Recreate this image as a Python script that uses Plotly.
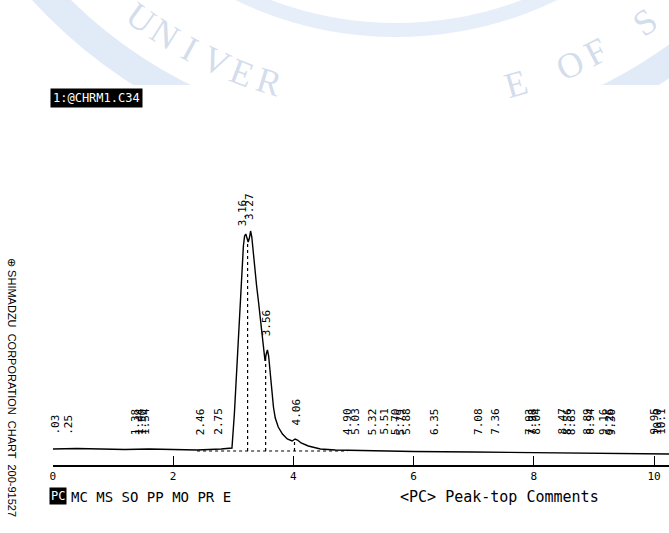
import math
import plotly.graph_objects as go

# ---------------- data ----------------
time_min = [0.00, 0.40, 0.80, 1.20, 1.60, 2.00, 2.40, 2.80, 2.98, 3.02, 3.05, 3.08,
            3.11, 3.14, 3.17, 3.19, 3.21, 3.23, 3.25, 3.27, 3.29, 3.31, 3.33, 3.36,
            3.39, 3.42, 3.45, 3.48, 3.51, 3.53, 3.55, 3.57, 3.59, 3.61, 3.64, 3.67,
            3.70, 3.75, 3.82, 3.90, 3.98, 4.03, 4.07, 4.13, 4.25, 4.45, 4.70, 5.00,
            6.00, 7.00, 8.00, 9.00, 10.25]
signal = [0, 0.5, 0, -0.5, 0, -0.5, -1, 0, 1, 35, 70, 110,
          145, 178, 203, 213, 215, 211, 207, 211, 218, 212, 198, 180,
          163, 148, 130, 112, 94, 88, 95, 99, 93, 78, 58, 42,
          31, 22, 15, 10, 8, 10, 9, 6, 3, 0, -1, -1.5,
          -2.5, -3, -3.5, -4, -5]

# peak-top comments (retention time labels)
peak_labels = [".03", ".25", "1.38", "1.44", "1.50", "1.54", "2.46", "2.75",
               "3.16", "3.27", "3.56", "4.06", "4.90", "5.03", "5.32", "5.51",
               "5.70", "5.79", "5.88", "6.35", "7.08", "7.36", "7.93", "7.98",
               "8.04", "8.47", "8.56", "8.63", "8.89", "8.94", "9.16", "9.26",
               "9.30", "9.95", "10.0", "10.1"]
peak_times = [0.03, 0.25, 1.38, 1.44, 1.50, 1.54, 2.46, 2.75,
              3.16, 3.27, 3.56, 4.06, 4.90, 5.03, 5.32, 5.51,
              5.70, 5.79, 5.88, 6.35, 7.08, 7.36, 7.93, 7.98,
              8.04, 8.47, 8.56, 8.63, 8.89, 8.94, 9.16, 9.26,
              9.30, 10.00, 10.06, 10.12]
label_base = {"3.16": 221, "3.27": 227, "3.56": 111, "4.06": 22}
default_label_base = 12

# integration marks (drop lines and dotted baseline)
mark_times = [3.24, 3.54, 4.02]
dotted_base_t = [2.40, 4.90]
dotted_base_s = [-2, -2]

tick_vals = [0, 2, 4, 6, 8, 10]

# ---------------- geometry helpers ----------------
W, H = 669, 533
X_LEFT_PX = 50
AXIS_Y_PX = 465
PX_PER_MIN = 60.4
X_MAX = (W - X_LEFT_PX) / PX_PER_MIN
Y_RANGE = [-(AXIS_Y_PX - 449), 449]


def px(x):
    return x / W


def py(y):
    return 1 - y / H


def interp(t, xs, ys):
    for i in range(len(xs) - 1):
        if xs[i] <= t <= xs[i + 1]:
            f = (t - xs[i]) / (xs[i + 1] - xs[i])
            return ys[i] + f * (ys[i + 1] - ys[i])
    return ys[-1]


fig = go.Figure()

fig.add_trace(go.Scatter(x=time_min, y=signal, mode="lines",
                         line=dict(color="black", width=1.4), hoverinfo="skip",
                         showlegend=False, cliponaxis=False))

fig.add_trace(go.Scatter(x=dotted_base_t, y=dotted_base_s, mode="lines",
                         line=dict(color="black", width=1.2, dash="dot"),
                         hoverinfo="skip", showlegend=False))

for mt in mark_times:
    top = interp(mt, time_min, signal)
    fig.add_trace(go.Scatter(x=[mt, mt], y=[-2, top], mode="lines",
                             line=dict(color="black", width=1.2, dash="dot"),
                             hoverinfo="skip", showlegend=False))

annotations = []
mono = "DejaVu Sans Mono"

for lab, t in zip(peak_labels, peak_times):
    base = label_base.get(lab, default_label_base)
    annotations.append(dict(x=t, y=base, xref="x", yref="y", text=lab,
                            textangle=-90, showarrow=False, xanchor="center",
                            yanchor="bottom",
                            font=dict(family=mono, size=11, color="black")))

# seal watermark (decoration)
shapes = []
cx, cy = 395, -335
for r, w, col in [(482, 28, "rgba(200,216,240,0.55)"),
                  (365, 14, "rgba(210,224,244,0.55)")]:
    shapes.append(dict(type="circle", xref="paper", yref="paper",
                       x0=px(cx - r), x1=px(cx + r), y0=py(cy + r), y1=py(cy - r),
                       line=dict(color=col, width=w), layer="below"))
shapes.append(dict(type="rect", xref="paper", yref="paper", x0=-0.01, x1=1.01,
                   y0=-0.01, y1=py(85), fillcolor="white", line=dict(width=0),
                   layer="below"))

r_txt = 436
seal_step = 3.8
seal_parts = [("UNIVERSITY", -36.0, 1), ("S FO EGELLOC", 35.0, -1)]
for word, start, direction in seal_parts:
    for i, ch in enumerate(word):
        if ch == " ":
            continue
        th_deg = start + direction * i * seal_step
        th = math.radians(th_deg)
        lx = cx + r_txt * math.sin(th)
        ly = cy + r_txt * math.cos(th)
        if ly > 86 or lx > W + 5:
            continue
        annotations.append(dict(x=px(lx), y=py(ly), xref="paper", yref="paper",
                                text=ch, showarrow=False, textangle=-th_deg,
                                xanchor="center", yanchor="middle",
                                font=dict(family="Liberation Serif", size=36,
                                          color="rgba(150,172,208,0.42)")))

annotations.append(dict(x=px(47), y=py(98), xref="paper", yref="paper",
                        text="1:@CHRM1.C34", showarrow=False, xanchor="left",
                        yanchor="middle", bgcolor="black", borderpad=2,
                        font=dict(family=mono, size=12, color="white")))

annotations.append(dict(x=px(9), y=py(388), xref="paper", yref="paper",
                        text="⊕ SHIMADZU  CORPORATION  CHART  200-91527",
                        showarrow=False, textangle=90, xanchor="center",
                        yanchor="middle",
                        font=dict(family="Liberation Sans", size=11, color="black")))

annotations.append(dict(x=px(55), y=py(496), xref="paper", yref="paper",
                        text="PC", showarrow=False, bgcolor="black", borderpad=1,
                        xanchor="center", yanchor="middle",
                        font=dict(family=mono, size=12, color="white")))
annotations.append(dict(x=px(66), y=py(497), xref="paper", yref="paper",
                        text="MC MS SO PP MO PR E", showarrow=False,
                        xanchor="left", yanchor="middle",
                        font=dict(family=mono, size=14, color="black")))
annotations.append(dict(x=px(397), y=py(497), xref="paper", yref="paper",
                        text="&lt;PC&gt; Peak-top Comments", showarrow=False,
                        xanchor="left", yanchor="middle",
                        font=dict(family=mono, size=15, color="black")))

fig.update_layout(
    width=W, height=H,
    margin=dict(l=0, r=0, t=0, b=0, pad=0),
    paper_bgcolor="white", plot_bgcolor="rgba(0,0,0,0)",
    showlegend=False,
    xaxis=dict(domain=[X_LEFT_PX / W, 1], range=[0, X_MAX],
               showline=True, linecolor="black",
               linewidth=1.8, ticks="inside", ticklen=9, tickwidth=1.4,
               tickcolor="black", tickvals=tick_vals, showgrid=False,
               zeroline=False, tickfont=dict(family=mono, size=11, color="black")),
    yaxis=dict(domain=[(H - AXIS_Y_PX) / H, 1], range=Y_RANGE, visible=False,
               showgrid=False, zeroline=False),
    annotations=annotations,
    shapes=shapes,
)

fig.write_html("out.html", config={"displayModeBar": False},
               post_script="document.body.style.margin='0px';document.body.style.overflow='hidden';")
